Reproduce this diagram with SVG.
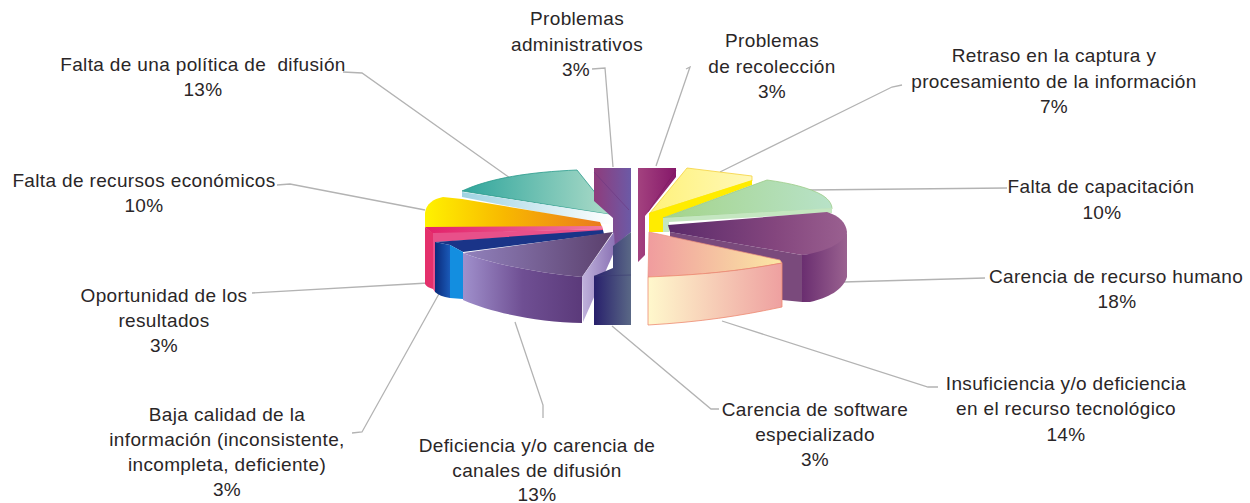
<svg xmlns="http://www.w3.org/2000/svg" width="1250" height="503" viewBox="0 0 1250 503">
<style>
.lbl{font-family:"Liberation Sans",Arial,sans-serif;font-size:19px;letter-spacing:0.35px;fill:#2a2627;text-anchor:middle}
.ld{fill:none;stroke:#b3b3b3;stroke-width:1.3}
</style>
<defs>
<linearGradient id="gTeal" x1="0" x2="1" y1="0" y2="0"><stop offset="0" stop-color="#2fa59c"/><stop offset="1" stop-color="#aedcc9"/></linearGradient>
<linearGradient id="gTealS" x1="0" x2="1" y1="0" y2="0"><stop offset="0" stop-color="#9fd3e2"/><stop offset="1" stop-color="#ffffff"/></linearGradient>
<linearGradient id="gOr" x1="0" x2="1" y1="0" y2="0"><stop offset="0" stop-color="#fff200"/><stop offset="0.45" stop-color="#f8b800"/><stop offset="1" stop-color="#ea7a1e"/></linearGradient>
<linearGradient id="gPk" x1="0" x2="1" y1="0" y2="0"><stop offset="0" stop-color="#e2206a"/><stop offset="1" stop-color="#f07aa0"/></linearGradient>
<linearGradient id="gBlD" x1="0" x2="1" y1="0" y2="0"><stop offset="0" stop-color="#0a2a7a"/><stop offset="1" stop-color="#1a5ab8"/></linearGradient>
<linearGradient id="gPuT" x1="0" x2="1" y1="0" y2="0"><stop offset="0" stop-color="#9282bd"/><stop offset="1" stop-color="#5a3f6c"/></linearGradient>
<linearGradient id="gPuF" x1="0" x2="1" y1="0" y2="0"><stop offset="0" stop-color="#a090cc"/><stop offset="0.5" stop-color="#6f4f93"/><stop offset="1" stop-color="#5b3a7a"/></linearGradient>
<linearGradient id="gLav" x1="0" x2="1" y1="0" y2="0"><stop offset="0" stop-color="#c0b2dc"/><stop offset="1" stop-color="#8a72b4"/></linearGradient>
<linearGradient id="gNavy" x1="0" x2="1" y1="0" y2="0"><stop offset="0" stop-color="#28206c"/><stop offset="1" stop-color="#5a6886"/></linearGradient>
<linearGradient id="gAdm" x1="0" x2="1" y1="0" y2="0"><stop offset="0" stop-color="#8f3c7c"/><stop offset="1" stop-color="#6c5aa6"/></linearGradient>
<linearGradient id="gMag" x1="0" x2="1" y1="0" y2="0"><stop offset="0" stop-color="#a3427f"/><stop offset="1" stop-color="#86186a"/></linearGradient>
<linearGradient id="gLY" x1="0" x2="1" y1="0" y2="0"><stop offset="0" stop-color="#fff27a"/><stop offset="1" stop-color="#fff8b8"/></linearGradient>
<linearGradient id="gGr" x1="0" x2="1" y1="0" y2="0"><stop offset="0" stop-color="#a4d48a"/><stop offset="1" stop-color="#b8e2c8"/></linearGradient>
<linearGradient id="gDP" x1="0" x2="1" y1="0" y2="0"><stop offset="0" stop-color="#5a2a6a"/><stop offset="0.6" stop-color="#84467e"/><stop offset="1" stop-color="#9a6090"/></linearGradient>
<linearGradient id="gDPF" x1="0" x2="1" y1="0" y2="0"><stop offset="0" stop-color="#6a2e70"/><stop offset="1" stop-color="#9a6290"/></linearGradient>
<linearGradient id="gSalT" x1="0" x2="1" y1="0" y2="0"><stop offset="0" stop-color="#f09c9e"/><stop offset="1" stop-color="#fbe8a4"/></linearGradient>
<linearGradient id="gSalF" x1="0" x2="1" y1="0" y2="0"><stop offset="0" stop-color="#fff8cc"/><stop offset="1" stop-color="#eea0a0"/></linearGradient>
</defs>

<g id="connectors">
<polyline class="ld" points="343,72 362,73 510,178"/>
<polyline class="ld" points="277,185 290,184 425,210"/>
<polyline class="ld" points="252,293 428,283"/>
<polyline class="ld" points="352,433 362,432 440,292"/>
<polyline class="ld" points="515,322 543,405 543,418"/>
<polyline class="ld" points="592,69 605,68 613,167"/>
<polyline class="ld" points="686,69 690,67 656,166"/>
<polyline class="ld" points="902,85 892,87 720,172"/>
<polyline class="ld" points="808,190 1007,188"/>
<polyline class="ld" points="843,282 985,278"/>
<polyline class="ld" points="722,321 928,387 938,387"/>
<polyline class="ld" points="612,326 711,409 719,409"/>
</g>

<g id="politica">
<path d="M462,191 C490,178 530,172 577,170 L613,215 Z" fill="url(#gTeal)" stroke="#2a9a8c" stroke-width="0.8"/>
<path d="M462,192 L613,215 L613,224 L600,224 L462,197 Z" fill="url(#gTealS)"/>
<text class="lbl" x="203" y="71">Falta de una política de&#160; difusión</text>
<text class="lbl" x="203" y="96">13%</text>
</g>

<g id="administrativos">
<path d="M594,168 L631,168 L631,232 L613,247 L613,218 L594,201 Z" fill="url(#gAdm)"/>
<path d="M594,172 L629,210" stroke="#6a3680" stroke-width="0.8" fill="none" opacity="0.7"/>
<text class="lbl" x="577" y="25">Problemas</text>
<text class="lbl" x="577" y="51">administrativos</text>
<text class="lbl" x="576" y="76">3%</text>
</g>

<g id="recoleccion">
<path d="M638,168 L676,168 L676,177 L650,210 L645,216 L645,255 L638,262 Z" fill="url(#gMag)"/>
<path d="M676,170 L648,212" stroke="#7a1a60" stroke-width="0.8" fill="none" opacity="0.7"/>
<text class="lbl" x="772" y="47">Problemas</text>
<text class="lbl" x="772" y="73">de recolección</text>
<text class="lbl" x="772" y="98">3%</text>
</g>

<g id="retraso">
<path d="M687,168 L752,176 L752,181 L650,213 Z" fill="url(#gLY)" stroke="#f5d23c" stroke-width="0.8"/>
<path d="M649,213 L752,180 L752,185 L663,218 L663,232 L649,232 Z" fill="#ffec00"/>
<text class="lbl" x="1054" y="62">Retraso en la captura y</text>
<text class="lbl" x="1054" y="88">procesamiento de la información</text>
<text class="lbl" x="1054" y="113">7%</text>
</g>

<g id="capacitacion">
<path d="M663,218 L767,180 C790,183 810,188 822,195 C830,200 832,205 832,209 Z" fill="url(#gGr)" stroke="#9ccc88" stroke-width="0.8"/>
<path d="M663,218 L832,208 L832,213 L669,222 L669,232 L663,232 Z" fill="#c4e6c0"/>
<text class="lbl" x="1101" y="193">Falta de capacitación</text>
<text class="lbl" x="1102" y="219">10%</text>
</g>

<g id="humano">
<path d="M670,232 L802,255 L802,302 L782,300 L670,262 Z" fill="#7a4a7c"/>
<path d="M668,225 L827,212 C840,216 846,223 847,232 C846,242 834,250 815,254 L802,255 L670,232 Z" fill="url(#gDP)"/>
<path d="M802,255 C825,252 843,244 847,232 L847,277 C843,290 828,298 810,302 L802,302 Z" fill="url(#gDPF)"/>
<text class="lbl" x="1116" y="283">Carencia de recurso humano</text>
<text class="lbl" x="1117" y="308">18%</text>
</g>

<g id="economicos">
<path d="M425,227 L425,213 C426,204 433,199 443,197 L462,199 L600,222 L602,227 Z" fill="url(#gOr)"/>
<text class="lbl" x="144" y="187">Falta de recursos económicos</text>
<text class="lbl" x="144" y="212">10%</text>
</g>

<g id="oportunidad">
<path d="M425,227 L602,226 L603,229 L433,234 Z" fill="url(#gPk)"/>
<path d="M425,227 L433,233 L433,289 C429,288 426,286 425,284 Z" fill="#e4306c"/>
<path d="M433,233 L603,229 L603,232 L436,242 L435,292 L433,289 Z" fill="#e8508a"/>
<text class="lbl" x="164" y="302">Oportunidad de los</text>
<text class="lbl" x="164" y="327">resultados</text>
<text class="lbl" x="164" y="352">3%</text>
</g>

<g id="calidad">
<path d="M435,242 L603,230 L604,234 L463,252 L450,245 Z" fill="#1a3488"/>
<path d="M435,242 L450,245 L450,298 C443,297 438,295 435,292 Z" fill="url(#gBlD)"/>
<path d="M450,245 L463,252 L463,299 L450,298 Z" fill="#138ee0"/>
<text class="lbl" x="227" y="421">Baja calidad de la</text>
<text class="lbl" x="227" y="446">información (inconsistente,</text>
<text class="lbl" x="227" y="471">incompleta, deficiente)</text>
<text class="lbl" x="227" y="496">3%</text>
</g>

<g id="canales">
<path d="M463,253 L613,232 L582,277 C540,273 495,265 463,253 Z" fill="url(#gPuT)"/>
<path d="M463,253 C495,265 540,273 582,277 L582,323 C540,322 495,314 463,300 Z" fill="url(#gPuF)"/>
<path d="M582,277 L614,232 L615,250 L583,322 Z" fill="url(#gLav)"/>
<text class="lbl" x="537" y="452">Deficiencia y/o carencia de</text>
<text class="lbl" x="537" y="477">canales de difusión</text>
<text class="lbl" x="537" y="501">13%</text>
</g>

<g id="software">
<path d="M594,276 L613,268 L613,246 L631,232 L631,325 L594,325 Z" fill="url(#gNavy)"/>
<path d="M594,276 L631,275" stroke="#3a3a70" stroke-width="0.6" fill="none"/>
<text class="lbl" x="815" y="416">Carencia de software</text>
<text class="lbl" x="815" y="441">especializado</text>
<text class="lbl" x="815" y="466">3%</text>
</g>

<g id="tecnologico">
<path d="M649,232 L780,260 L782,263 C740,271 700,275 648,277 Z" fill="url(#gSalT)" stroke="#ec8f7c" stroke-width="0.7"/>
<path d="M648,277 C700,275 740,271 782,263 L782,307 C740,316 700,322 648,325 Z" fill="url(#gSalF)" stroke="#ee8a72" stroke-width="0.8"/>
<text class="lbl" x="1066" y="390">Insuficiencia y/o deficiencia</text>
<text class="lbl" x="1066" y="415">en el recurso tecnológico</text>
<text class="lbl" x="1066" y="441">14%</text>
</g>
</svg>
